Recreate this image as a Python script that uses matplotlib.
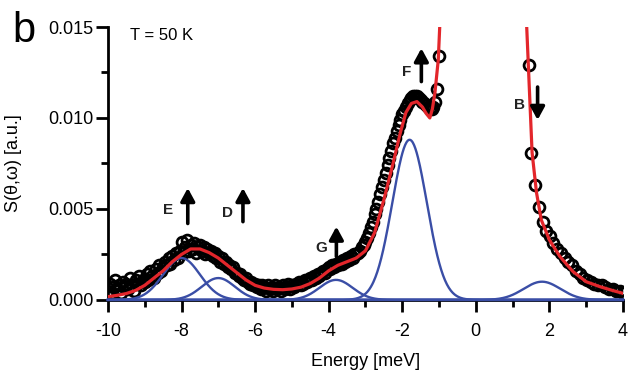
import numpy as np
import matplotlib
matplotlib.use("Agg")
import matplotlib.pyplot as plt

plt.rcParams['font.family'] = ['Liberation Sans', 'DejaVu Sans']
plt.rcParams['axes.unicode_minus'] = False

# measured spectrum (black circles), left part on a 0.05 meV grid from -10 to -1
data_x_left = np.linspace(-10.0, -1.0, 181)
data_y_left = [
    0.0005, 0.0009, 0.0004, 0.0007, 0.0011, 0.0006, 0.0008, 0.0004, 0.0010, 0.0007,
    0.0009, 0.0006, 0.0012, 0.0008, 0.0005, 0.0011, 0.0009, 0.0013, 0.0008, 0.0011,
    0.0010, 0.0014, 0.0011, 0.0016, 0.0013, 0.0012, 0.0017, 0.0015, 0.0019, 0.0016,
    0.0018, 0.0021, 0.0019, 0.0023, 0.0020, 0.0024, 0.0022, 0.0026, 0.0023, 0.0027,
    0.0032, 0.0026, 0.0029, 0.0033, 0.0027, 0.0030, 0.0028, 0.0031, 0.0026, 0.0029,
    0.0030, 0.0027, 0.0029, 0.0025, 0.0028, 0.0026, 0.0027, 0.0024, 0.0026, 0.0023,
    0.0024, 0.0021, 0.0023, 0.0020, 0.0021, 0.0018, 0.0019, 0.0017, 0.0018, 0.0015,
    0.0015, 0.0013, 0.0014, 0.0012, 0.0011, 0.0012, 0.0010, 0.0009, 0.0010, 0.0008,
    0.0009, 0.0007, 0.0008, 0.0006, 0.0008, 0.0007, 0.0005, 0.0008, 0.0006, 0.0007,
    0.0005, 0.0008, 0.0006, 0.0007, 0.0005, 0.0008, 0.0006, 0.0007, 0.0009, 0.0006,
    0.0008, 0.0007, 0.0009, 0.0008, 0.0010, 0.0008, 0.0009, 0.0011, 0.0010, 0.0011,
    0.0012, 0.0011, 0.0013, 0.0012, 0.0014, 0.0013, 0.0015, 0.0016, 0.0015, 0.0017,
    0.0018, 0.0017, 0.0019, 0.0018, 0.0020, 0.0019, 0.0021, 0.0020, 0.0022, 0.0021,
    0.0023, 0.0022, 0.0024, 0.0023, 0.0025, 0.0025, 0.0026, 0.0027, 0.0029, 0.0030,
    0.0032, 0.0034, 0.0037, 0.0040, 0.0043, 0.0047, 0.0050, 0.0054, 0.0058, 0.0062,
    0.0066, 0.0070, 0.0074, 0.0078, 0.0082, 0.0086, 0.0089, 0.0093, 0.0096, 0.0099,
    0.0102, 0.0104, 0.0106, 0.0108, 0.0110, 0.0111, 0.0112, 0.0112, 0.0112, 0.0111,
    0.0110, 0.0109, 0.0108, 0.0107, 0.0106, 0.0105, 0.0105, 0.0106, 0.0109, 0.0116,
    0.0134,
]
# right part of the spectrum
data_x_right = [1.45, 1.51, 1.62, 1.72, 1.82, 1.92, 2.01, 2.11, 2.21, 2.31, 2.42, 2.52,
                2.62, 2.72, 2.82, 2.92, 3.02, 3.12, 3.22, 3.32, 3.42, 3.52, 3.62,
                3.72, 3.82, 3.92, 4.0]
data_y_right = [0.0129, 0.0081, 0.0063, 0.0051, 0.0043, 0.0038, 0.0035, 0.0031, 0.0028,
                0.0026, 0.0023, 0.0021, 0.0019, 0.0016, 0.0014, 0.0012, 0.0011, 0.0010,
                0.0009, 0.0008, 0.0008, 0.0007, 0.0006, 0.0006, 0.0005, 0.0005, 0.0004]

# total fit (red)
fit_x = [-10.0, -9.75, -9.5, -9.25, -9.0, -8.75, -8.5, -8.25, -8.0, -7.75, -7.5, -7.25,
         -7.0, -6.75, -6.5, -6.25, -6.0, -5.75, -5.5, -5.25, -5.0, -4.75, -4.5, -4.25,
         -4.0, -3.75, -3.5, -3.25, -3.0, -2.75, -2.5, -2.25, -2.05, -1.9, -1.75, -1.6,
         -1.45, -1.35, -1.25, -1.18, -1.11, -1.02, -0.97, -0.93,
         1.33, 1.38, 1.53, 1.65, 1.78, 2.0, 2.28, 2.64, 3.0, 3.37, 3.73, 4.0]
fit_y = [0.00018, 0.00025, 0.00035, 0.00052, 0.0008, 0.0012, 0.0016, 0.0021, 0.0025,
         0.0028, 0.0028, 0.0026, 0.0023, 0.0019, 0.0015, 0.0011, 0.0008, 0.00065,
         0.00058, 0.00056, 0.0006, 0.0007, 0.0009, 0.0012, 0.0016, 0.0019, 0.0021,
         0.0023, 0.0027, 0.0037, 0.0055, 0.0075, 0.0092, 0.0103, 0.0108, 0.0109,
         0.0106, 0.01025, 0.0100, 0.0105, 0.0114, 0.0132, 0.0155, 0.0170,
         0.0170, 0.0152, 0.0081, 0.0059, 0.0044, 0.0033, 0.0024, 0.00156, 0.0010,
         0.00073, 0.00051, 0.00036]

# gaussian components (blue): centre, height, width
comp_center = [-8.0, -7.0, -3.8, -1.8, 1.8]
comp_height = [0.0023, 0.0012, 0.0011, 0.0088, 0.0010]
comp_sigma = [0.5, 0.45, 0.45, 0.47, 0.5]

# mode labels with arrows: label, text x, text y, arrow x, arrow base, arrow tip
arrow_labels = ['E', 'D', 'G', 'F', 'B']
label_x = [-8.37, -6.74, -4.19, -1.88, 1.2]
label_y = [0.00495, 0.0048, 0.00284, 0.01255, 0.0107]
arrow_x = [-7.83, -6.33, -3.79, -1.48, 1.68]
arrow_base = [0.0042, 0.0043, 0.00238, 0.0120, 0.0117]
arrow_tip = [0.00615, 0.00615, 0.00403, 0.01383, 0.00989]

red = '#e3262b'
blue = '#3a4ea6'

fig = plt.figure(figsize=(6.35, 3.83), dpi=100)
ax = fig.add_axes([0.170, 0.217, 0.811, 0.7125])

ax.plot(data_x_left, data_y_left, 'o', mfc='none', mec='black', ms=7.8, mew=2.0, zorder=2)
ax.plot(data_x_right, data_y_right, 'o', mfc='none', mec='black', ms=7.8, mew=2.0, zorder=2)

xx = np.linspace(-10, 4, 800)
for c, h, s in zip(comp_center, comp_height, comp_sigma):
    ax.plot(xx, h * np.exp(-0.5 * ((xx - c) / s) ** 2), color=blue, lw=1.7,
            clip_on=False, zorder=3)

ax.plot(fit_x, fit_y, color=red, lw=2.3, zorder=4, solid_joinstyle='round')

for lab, tx, ty, ax_x, yb, yt in zip(arrow_labels, label_x, label_y, arrow_x, arrow_base, arrow_tip):
    ax.annotate('', xy=(ax_x, yt), xytext=(ax_x, yb),
                arrowprops=dict(arrowstyle='-|>,head_length=0.55,head_width=0.3',
                                lw=2.6, color='black', shrinkA=0, shrinkB=0,
                                mutation_scale=14), zorder=5)
    ax.text(tx, ty, lab, fontsize=11, fontweight='bold', ha='center', va='center',
            color='#222222', zorder=5)

ax.set_xlim(-10, 4)
ax.set_ylim(0, 0.015)
ax.set_xticks([-10, -8, -6, -4, -2, 0, 2, 4])
ax.set_xticks([-9, -7, -5, -3, -1, 1, 3], minor=True)
ax.set_yticks([0, 0.005, 0.010, 0.015])
ax.set_yticks([0.0025, 0.0075, 0.0125], minor=True)
ax.yaxis.set_major_formatter(matplotlib.ticker.FormatStrFormatter('%.3f'))

for side in ['top', 'right']:
    ax.spines[side].set_visible(False)
for side in ['left', 'bottom']:
    ax.spines[side].set_linewidth(2.0)
ax.tick_params(which='major', direction='out', length=8.5, width=2.0, labelsize=13)
ax.tick_params(which='minor', direction='out', length=5, width=2.0)
ax.tick_params(axis='x', which='major', pad=8)
ax.tick_params(axis='y', which='major', pad=2)

ax.set_xlabel('Energy [meV]', fontsize=13)
ax.set_ylabel('S(θ,ω) [a.u.]', fontsize=13)
ax.xaxis.set_label_coords(0.5, -0.195)
ax.yaxis.set_label_coords(-0.167, 0.5)

ax.text(0.043, 0.97, 'T = 50 K', transform=ax.transAxes, fontsize=12, va='center', ha='left')
fig.text(0.019, 0.89, 'b', fontsize=30, ha='left', va='baseline')

fig.savefig('out.png', dpi=100)
